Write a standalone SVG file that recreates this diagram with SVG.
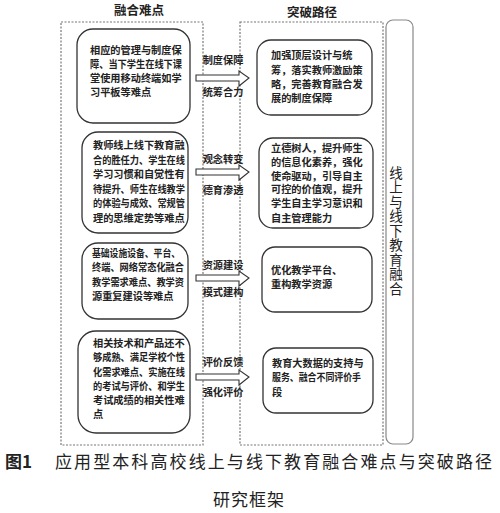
<svg xmlns="http://www.w3.org/2000/svg" width="500" height="513" viewBox="0 0 500 513">
<style>
.outer{fill:none;stroke:#777;stroke-width:1.2;stroke-dasharray:2,1.5}
.rb{fill:#fff;stroke:#333;stroke-width:1.3}
.t{font-family:"Noto Sans CJK SC",sans-serif;font-size:10.2px;font-weight:bold;fill:#222}
.lab{font-family:"Noto Sans CJK SC",sans-serif;font-size:10.2px;font-weight:bold;fill:#222;text-anchor:middle}
.hd{font-family:"Noto Sans CJK SC",sans-serif;font-size:12.5px;font-weight:bold;fill:#222;text-anchor:middle}
.arr{fill:#fff;stroke:#333;stroke-width:1.1}
.cap{font-family:"Noto Sans CJK SC",sans-serif;font-size:17px;fill:#222}
.v{font-family:"Noto Sans CJK SC",sans-serif;font-size:13.5px;fill:#222;writing-mode:vertical-rl;text-orientation:upright;letter-spacing:1px}
</style>
<rect width="500" height="513" fill="#fff"/>
<text class="hd" x="139" y="15">融合难点</text>
<text class="hd" x="312" y="17">突破路径</text>
<rect class="outer" x="61" y="22" width="142" height="423"/>
<rect class="outer" x="240" y="22" width="143" height="423"/>
<g id="integration">
<rect x="386" y="20" width="27" height="424" rx="7" fill="#fff" stroke="#888" stroke-width="1.2"/>
<text class="v" x="396" y="166">线上与线下教育融合</text>
</g>
<g id="connectors">
<path class="arr" d="M196,75 H239 V71 L249,78 L239,86 V81 H196 Z"/>
<path class="arr" d="M196,169 H239 V165 L249,172 L239,180 V175 H196 Z"/>
<path class="arr" d="M196,275 H239 V271 L249,278 L239,286 V281 H196 Z"/>
<path class="arr" d="M196,374 H239 V370 L249,377 L239,385 V380 H196 Z"/>
<text class="lab" x="223" y="64">制度保障</text>
<text class="lab" x="223" y="96">统筹合力</text>
<text class="lab" x="223" y="163">观念转变</text>
<text class="lab" x="223" y="194">德育渗透</text>
<text class="lab" x="223" y="269">资源建设</text>
<text class="lab" x="223" y="296">模式建构</text>
<text class="lab" x="223" y="366">评价反馈</text>
<text class="lab" x="223" y="396">强化评价</text>
</g>
<g id="d1">
<rect class="rb" x="77" y="29" width="113" height="94" rx="16"/>
<text class="t" x="90" y="54">相应的管理与制度保</text>
<text class="t" x="90" y="68" textLength="92" lengthAdjust="spacingAndGlyphs">障、当下学生在线下课</text>
<text class="t" x="90" y="82">堂使用移动终端如学</text>
<text class="t" x="90" y="96">习平板等难点</text>
</g>
<g id="d2">
<rect class="rb" x="82" y="132" width="106" height="101" rx="16"/>
<text class="t" x="93" y="149">教师线上线下教育融</text>
<text class="t" x="93" y="163.5" textLength="92" lengthAdjust="spacingAndGlyphs">合的胜任力、学生在线</text>
<text class="t" x="93" y="178">学习习惯和自觉性有</text>
<text class="t" x="93" y="192.5" textLength="92" lengthAdjust="spacingAndGlyphs">待提升、师生在线教学</text>
<text class="t" x="93" y="207" textLength="92" lengthAdjust="spacingAndGlyphs">的体验与成效、常规管</text>
<text class="t" x="93" y="221.5">理的思维定势等难点</text>
</g>
<g id="d3">
<rect class="rb" x="82" y="243" width="106" height="76" rx="16"/>
<text class="t" x="92" y="257" textLength="88" lengthAdjust="spacingAndGlyphs">基础设施设备、平台、</text>
<text class="t" x="92" y="271" textLength="92" lengthAdjust="spacingAndGlyphs">终端、网络常态化融合</text>
<text class="t" x="92" y="285.5" textLength="92" lengthAdjust="spacingAndGlyphs">教学需求难点、教学资</text>
<text class="t" x="92" y="299.5">源重复建设等难点</text>
</g>
<g id="d4">
<rect class="rb" x="78" y="331" width="112" height="102" rx="18"/>
<text class="t" x="93" y="347">相关技术和产品还不</text>
<text class="t" x="93" y="361" textLength="92" lengthAdjust="spacingAndGlyphs">够成熟、满足学校个性</text>
<text class="t" x="93" y="375.5" textLength="92" lengthAdjust="spacingAndGlyphs">化需求难点、实施在线</text>
<text class="t" x="93" y="389.5" textLength="92" lengthAdjust="spacingAndGlyphs">的考试与评价、和学生</text>
<text class="t" x="93" y="404">考试成绩的相关性难</text>
<text class="t" x="93" y="418">点</text>
</g>
<g id="p1">
<rect class="rb" x="257" y="40" width="115" height="75" rx="14"/>
<text class="t" x="271" y="59">加强顶层设计与统</text>
<text class="t" x="271" y="73.5">筹，落实教师激励策</text>
<text class="t" x="271" y="87.5">略，完善教育融合发</text>
<text class="t" x="271" y="102">展的制度保障</text>
</g>
<g id="p2">
<rect class="rb" x="259" y="138" width="114" height="90" rx="14"/>
<text class="t" x="271" y="152">立德树人，提升师生</text>
<text class="t" x="271" y="166">的信息化素养，强化</text>
<text class="t" x="271" y="179.5">使命驱动，引导自主</text>
<text class="t" x="271" y="193">可控的价值观，提升</text>
<text class="t" x="271" y="207">学生自主学习意识和</text>
<text class="t" x="271" y="221.5">自主管理能力</text>
</g>
<g id="p3">
<rect class="rb" x="262" y="247" width="110" height="65" rx="13"/>
<text class="t" x="271" y="274">优化教学平台、</text>
<text class="t" x="271" y="288">重构教学资源</text>
</g>
<g id="p4">
<rect class="rb" x="263" y="348" width="110" height="65" rx="13"/>
<text class="t" x="272" y="367">教育大数据的支持与</text>
<text class="t" x="272" y="381" textLength="89" lengthAdjust="spacingAndGlyphs">服务、融合不同评价手</text>
<text class="t" x="272" y="396">段</text>
</g>
<text class="cap" x="5" y="468" font-weight="bold" font-family="'Liberation Serif','Noto Sans CJK SC',serif">图1</text>
<text class="cap" x="55" y="468" textLength="437" lengthAdjust="spacing">应用型本科高校线上与线下教育融合难点与突破路径</text>
<text class="cap" x="249" y="506" text-anchor="middle" letter-spacing="1">研究框架</text>
</svg>
